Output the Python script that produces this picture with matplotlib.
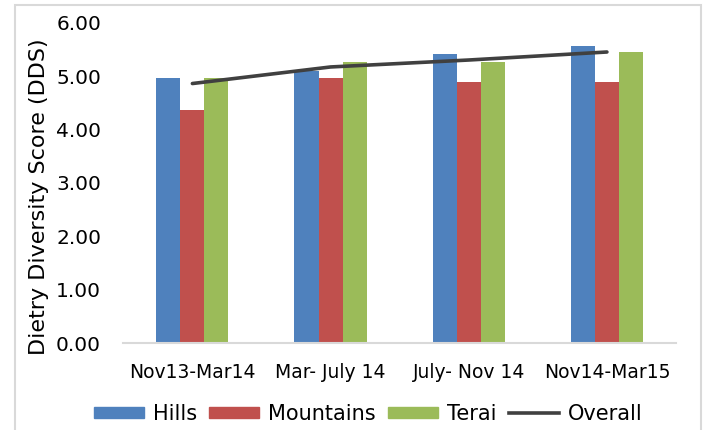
import matplotlib
matplotlib.use("Agg")
import matplotlib.pyplot as plt
import numpy as np
from matplotlib.patches import Rectangle, Patch
from matplotlib.lines import Line2D

categories = ["Nov13-Mar14", "Mar- July 14", "July- Nov 14", "Nov14-Mar15"]
hills = [4.96, 5.09, 5.41, 5.56]
mountains = [4.37, 4.96, 4.89, 4.89]
terai = [4.96, 5.26, 5.26, 5.45]
overall = [4.86, 5.17, 5.30, 5.45]
yticks = [0, 1, 2, 3, 4, 5, 6]

c_h, c_m, c_t, c_o = "#4F81BD", "#C0504D", "#9BBB59", "#404040"

plt.rcParams['font.family'] = ['DejaVu Sans']
fig = plt.figure(figsize=(7.15, 4.3), dpi=100)
ax = fig.add_axes([123.3/715, 1-343.3/430, (676-123.3)/715, (343.3-22.6)/430])

x = np.arange(len(categories))
w = 0.174
ax.bar(x - w, hills, w, color=c_h, label="Hills")
ax.bar(x, mountains, w, color=c_m, label="Mountains")
ax.bar(x + w, terai, w, color=c_t, label="Terai")
ax.plot(x, overall, color=c_o, lw=2.6, solid_capstyle='round', label="Overall")

ax.set_xlim(-0.5, len(categories) - 0.5)
ax.set_ylim(0, 6)
ax.set_yticks(yticks)
ax.set_yticklabels([f"{v:.2f}" for v in yticks], fontsize=14.5)
ax.set_xticks(x)
ax.set_xticklabels(categories, fontsize=13.5)
ax.tick_params(axis='both', length=0)
ax.tick_params(axis='y', pad=16)
ax.tick_params(axis='x', pad=14)
for s in ['left', 'right', 'top']:
    ax.spines[s].set_visible(False)
ax.spines['bottom'].set_color('#d9d9d9')
ax.spines['bottom'].set_linewidth(1.5)
ax.set_ylabel("Dietry Diversity Score (DDS)", fontsize=16, va='center')
ax.yaxis.set_label_coords((39.5-123.3)/552.7, (343.3-196.5)/320.7)

handles = [Patch(color=c_h), Patch(color=c_m), Patch(color=c_t),
           Line2D([0], [0], color=c_o, lw=2.6)]
labels = ["Hills", "Mountains", "Terai", "Overall"]
fig.legend(handles, labels, loc='center', bbox_to_anchor=(0.515, 0.038), ncol=4,
           frameon=False, fontsize=15, handlelength=2.4, handleheight=0.45,
           handletextpad=0.43, columnspacing=0.6, borderaxespad=0, borderpad=0)

fig.add_artist(Rectangle((15/715, -0.1), (701-15)/715, 1.1 - 5/430, transform=fig.transFigure,
                         fill=False, edgecolor='#d9d9d9', lw=1.5))

fig.savefig("out.png", dpi=100)
